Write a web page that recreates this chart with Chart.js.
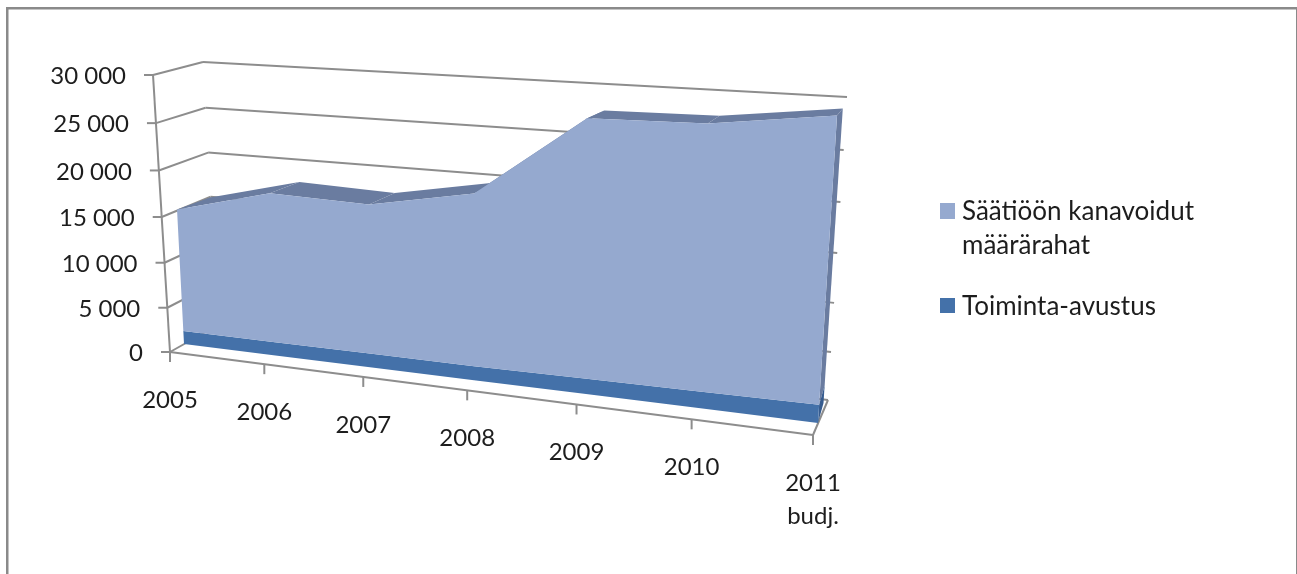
<!DOCTYPE html>
<html lang="fi">
<head>
<meta charset="utf-8">
<title>Säätiöön kanavoidut määrärahat</title>
<script src="https://cdn.jsdelivr.net/npm/chart.js@4"></script>
<style>
html,body{margin:0;padding:0;background:#fff;overflow:hidden}
canvas{display:block}
</style>
</head>
<body>
<canvas id="c" width="1297" height="574"></canvas>
<script>
const categories = ['2005', '2006', '2007', '2008', '2009', '2010', ['2011', 'budj.']];
const toimintaAvustus = [1500, 1500, 1500, 1500, 1600, 1700, 1800];
const saatioonKanavoidut = [13800, 16400, 16050, 18000, 26000, 26000, 27200];
const legendSaatio = ['Säätiöön kanavoidut', 'määrärahat'];
const legendToiminta = ['Toiminta-avustus'];
const valueMax = 30000;
const valueStep = 5000;

const FONT = '24px Lato, "Open Sans", sans-serif';
const LEGEND_FONT = '26px Lato, "Open Sans", sans-serif';
const TEXT = '#1d1d1d';
const GRID = '#8d8d8d';
const LIGHT = '#95a9cf';
const DARK = '#4471a9';
const TOP = '#6a7ca0';
const SIDE_DARK = '#375c8f';

/* Perspective planes: corners are (u=0,t=0), (u=1,t=0), (u=1,t=1), (u=0,t=1). */
function plane(q) {
  const [[x0, y0], [x1, y1], [x2, y2], [x3, y3]] = q;
  const dx1 = x1 - x2, dx2 = x3 - x2, sx = x0 - x1 + x2 - x3;
  const dy1 = y1 - y2, dy2 = y3 - y2, sy = y0 - y1 + y2 - y3;
  const den = dx1 * dy2 - dx2 * dy1;
  const g = (sx * dy2 - dx2 * sy) / den, h = (dx1 * sy - sx * dy1) / den;
  const a = x1 - x0 + g * x1, b = x3 - x0 + h * x3;
  const d = y1 - y0 + g * y1, e = y3 - y0 + h * y3;
  return (u, t) => {
    const w = g * u + h * t + 1;
    return [(a * u + b * t + x0) / w, (d * u + e * t + y0) / w];
  };
}
const areaFront = plane([[184, 344], [818, 423], [837.7, 104.4], [170, 74]]);
const areaBack  = plane([[216, 327], [823.5, 403], [843.5, 97.9], [204, 67]]);
const wall      = plane([[218, 325], [828, 400], [847, 97], [203, 62]]);
const axisFront = plane([[170, 352], [813, 435], [832, 115], [153, 75]]);

function poly(ctx, pts, fill) {
  ctx.beginPath();
  pts.forEach((p, i) => i ? ctx.lineTo(p[0], p[1]) : ctx.moveTo(p[0], p[1]));
  ctx.closePath();
  ctx.fillStyle = fill;
  ctx.fill();
}
function seg(ctx, a, b) {
  ctx.beginPath();
  ctx.moveTo(a[0], a[1]);
  ctx.lineTo(b[0], b[1]);
  ctx.stroke();
}

const perspective = {
  id: 'perspective',
  afterDatasetsUpdate(chart) {
    const { left, right, top, bottom } = chart.chartArea;
    chart.data.datasets.forEach((ds, i) => {
      chart.getDatasetMeta(i).data.forEach(el => {
        const u = (el.x - left) / (right - left);
        const t = (bottom - el.y) / (bottom - top);
        el.$uv = [u, t];
        const p = areaFront(u, t);
        el.x = p[0];
        el.y = p[1];
      });
    });
  },
  beforeDatasetsDraw(chart) {
    const ctx = chart.ctx;
    const xs = chart.scales.x, ys = chart.scales.y;
    const tOf = v => (ys.bottom - ys.getPixelForValue(v)) / (ys.bottom - ys.top);
    const uOf = i => (xs.getPixelForValue(i) - xs.left) / (xs.right - xs.left);

    /* frame */
    ctx.fillStyle = '#8a8a8a';
    ctx.fillRect(6, 7, 1291, 2.5);
    ctx.fillRect(6, 7, 2.5, 567);
    ctx.fillRect(1296, 7, 1, 567);

    /* walls, value axis, value labels */
    ctx.strokeStyle = GRID;
    ctx.lineWidth = 2;
    ctx.font = FONT;
    ctx.textBaseline = 'middle';
    ys.ticks.forEach(tk => {
      const t = tOf(tk.value);
      const a = axisFront(0, t), l = wall(0, t), r = wall(1, t);
      seg(ctx, a, l);
      seg(ctx, l, r);
      seg(ctx, [a[0] - 9, a[1]], a);
      ctx.fillStyle = TEXT;
      ctx.textAlign = 'right';
      ctx.fillText(tk.label, a[0] - 27, a[1] + 1.5);
    });
    seg(ctx, axisFront(0, 0), axisFront(0, 1));
    seg(ctx, axisFront(0, 0), axisFront(1, 0));
    seg(ctx, axisFront(1, 0), wall(1, 0));

    /* category ticks and labels */
    ctx.textAlign = 'center';
    xs.ticks.forEach((tk, i) => {
      const p = axisFront(uOf(i), 0);
      seg(ctx, p, [p[0], p[1] + 10]);
      ctx.fillStyle = TEXT;
      [].concat(tk.label).forEach((line, k) => {
        ctx.fillText(line, p[0], p[1] + 48 + k * 33);
      });
    });

    /* area faces */
    const band = chart.getDatasetMeta(0).data;
    const total = chart.getDatasetMeta(1).data;
    const last = total.length - 1;
    const bk = el => areaBack(el.$uv[0], el.$uv[1]);
    for (let i = 0; i < last; i++) {
      poly(ctx, [[total[i].x, total[i].y], [total[i + 1].x, total[i + 1].y], bk(total[i + 1]), bk(total[i])], TOP);
    }
    const uR = total[last].$uv[0];
    poly(ctx, [[total[last].x, total[last].y], bk(total[last]), bk(band[last]), [band[last].x, band[last].y]], TOP);
    poly(ctx, [[band[last].x, band[last].y], bk(band[last]), areaBack(uR, 0), areaFront(uR, 0)], SIDE_DARK);

    const zero = band.map(el => areaFront(el.$uv[0], 0));
    const line = els => els.map(el => [el.x, el.y]);
    poly(ctx, line(band).concat(zero.slice().reverse()), DARK);
    poly(ctx, line(total).concat(line(band).reverse()), LIGHT);

    /* legend */
    ctx.textAlign = 'left';
    ctx.font = LEGEND_FONT;
    ctx.fillStyle = chart.data.datasets[1].backgroundColor;
    ctx.fillRect(940, 203, 15, 16);
    ctx.fillStyle = chart.data.datasets[0].backgroundColor;
    ctx.fillRect(940, 298, 15, 15);
    ctx.fillStyle = TEXT;
    legendSaatio.forEach((s, k) => ctx.fillText(s, 962, 212 + k * 34));
    legendToiminta.forEach((s, k) => ctx.fillText(s, 962, 307 + k * 34));
  }
};

new Chart(document.getElementById('c'), {
  type: 'line',
  plugins: [perspective],
  data: {
    labels: categories,
    datasets: [
      { label: legendToiminta.join(' '), data: toimintaAvustus, backgroundColor: DARK, borderWidth: 0, pointRadius: 0, fill: false, tension: 0, clip: false },
      { label: legendSaatio.join(' '), data: saatioonKanavoidut, backgroundColor: LIGHT, borderWidth: 0, pointRadius: 0, fill: false, tension: 0, clip: false }
    ]
  },
  options: {
    responsive: false,
    animation: false,
    devicePixelRatio: 1,
    events: [],
    layout: { padding: { left: 150, right: 447, top: 77, bottom: 222 } },
    plugins: { legend: { display: false }, tooltip: { enabled: false } },
    scales: {
      x: {
        grid: { display: false }, border: { display: false },
        ticks: { display: false, autoSkip: false }
      },
      y: {
        stacked: true, min: 0, max: valueMax,
        grid: { display: false }, border: { display: false },
        ticks: {
          display: false, stepSize: valueStep,
          callback: v => String(v).replace(/\B(?=(\d{3})+$)/g, ' ')
        }
      }
    }
  }
});
</script>
</body>
</html>
